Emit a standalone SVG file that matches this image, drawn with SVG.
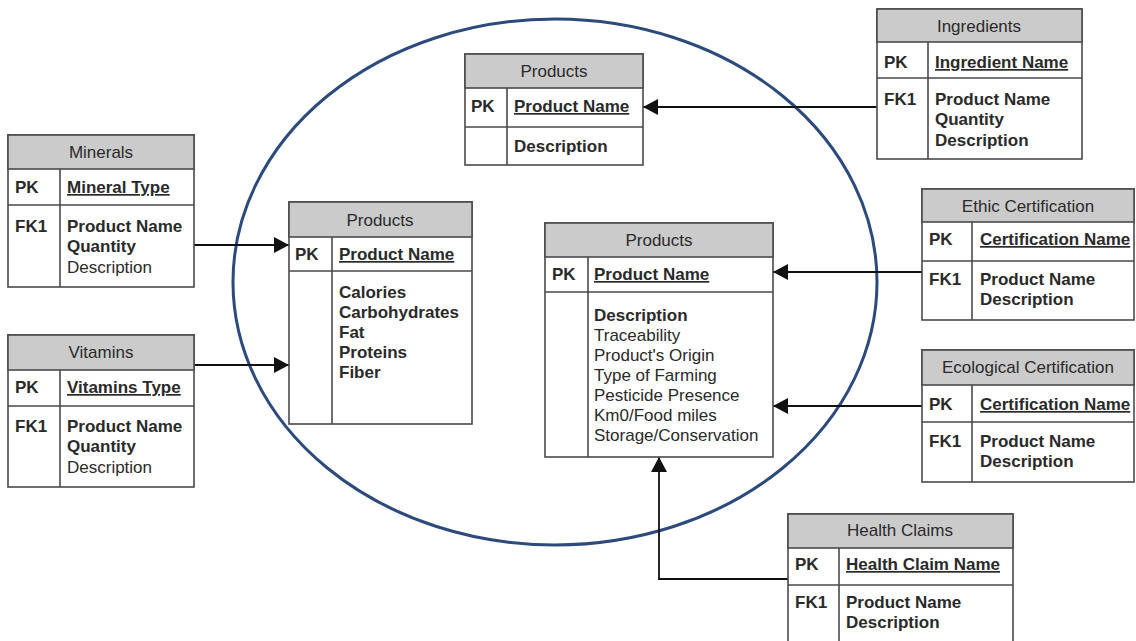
<svg xmlns="http://www.w3.org/2000/svg" width="1136" height="641" viewBox="0 0 1136 641">
<defs>
<style>
text{font-family:"Liberation Sans",Arial,sans-serif;font-size:17px;fill:#2a2a2a}
.b{font-weight:bold}
.u{font-weight:bold;text-decoration:underline}
.t{text-anchor:middle}
.box{fill:#fff;stroke:#4a4a4a;stroke-width:1.6}
.hdr{fill:#cbcbcb;stroke:#4a4a4a;stroke-width:1.6}
.ln{stroke:#4a4a4a;stroke-width:1.6;fill:none}
.con{stroke:#111;stroke-width:1.8;fill:none;marker-end:url(#ah)}
</style>
<marker id="ah" markerUnits="userSpaceOnUse" markerWidth="16" markerHeight="16" refX="15" refY="8" orient="auto">
<path d="M0,0 L15,8 L0,16 Z" fill="#111"/>
</marker>
</defs>
<rect width="1136" height="641" fill="#fff"/>
<ellipse cx="555" cy="282" rx="322" ry="263" fill="none" stroke="#2c4a7c" stroke-width="3"/>
<g id="connectors">
<path class="con" d="M194,245 H289"/>
<path class="con" d="M194,365 H289"/>
<path class="con" d="M877,107 H643"/>
<path class="con" d="M922,272 H773"/>
<path class="con" d="M922,406 H773"/>
<path class="con" d="M788,579 H659 V457"/>
</g>
<g id="minerals">
<rect class="box" x="8" y="135" width="186" height="152"/>
<rect class="hdr" x="8" y="135" width="186" height="34"/>
<path class="ln" d="M8,205 H194 M60,169 V287"/>
<text class="t" x="101" y="158">Minerals</text>
<text class="b" x="15" y="193">PK</text>
<text class="u" x="67" y="193">Mineral Type</text>
<text class="b" x="15" y="232">FK1</text>
<text class="b" x="67" y="232">Product Name</text>
<text class="b" x="67" y="252">Quantity</text>
<text x="67" y="273">Description</text>
</g>
<g id="vitamins">
<rect class="box" x="8" y="335" width="186" height="152"/>
<rect class="hdr" x="8" y="335" width="186" height="35"/>
<path class="ln" d="M8,406 H194 M60,370 V487"/>
<text class="t" x="101" y="358">Vitamins</text>
<text class="b" x="15" y="393">PK</text>
<text class="u" x="67" y="393">Vitamins Type</text>
<text class="b" x="15" y="432">FK1</text>
<text class="b" x="67" y="432">Product Name</text>
<text class="b" x="67" y="452">Quantity</text>
<text x="67" y="473">Description</text>
</g>
<g id="products-nutrition">
<rect class="box" x="289" y="202" width="183" height="222"/>
<rect class="hdr" x="289" y="202" width="183" height="35"/>
<path class="ln" d="M289,271 H472 M332,237 V424"/>
<text class="t" x="380" y="226">Products</text>
<text class="b" x="295" y="260">PK</text>
<text class="u" x="339" y="260">Product Name</text>
<text class="b" x="339" y="298">Calories</text>
<text class="b" x="339" y="318">Carbohydrates</text>
<text class="b" x="339" y="338">Fat</text>
<text class="b" x="339" y="358">Proteins</text>
<text class="b" x="339" y="378">Fiber</text>
</g>
<g id="products-top">
<rect class="box" x="465" y="54" width="178" height="111"/>
<rect class="hdr" x="465" y="54" width="178" height="34"/>
<path class="ln" d="M465,127 H643 M507,88 V165"/>
<text class="t" x="554" y="77">Products</text>
<text class="b" x="471" y="112">PK</text>
<text class="u" x="514" y="112">Product Name</text>
<text class="b" x="514" y="152">Description</text>
</g>
<g id="ingredients">
<rect class="box" x="877" y="9" width="205" height="150"/>
<rect class="hdr" x="877" y="9" width="205" height="33"/>
<path class="ln" d="M877,78 H1082 M928,42 V159"/>
<text class="t" x="979" y="32">Ingredients</text>
<text class="b" x="884" y="68">PK</text>
<text class="u" x="935" y="68">Ingredient Name</text>
<text class="b" x="884" y="105">FK1</text>
<text class="b" x="935" y="105">Product Name</text>
<text class="b" x="935" y="125">Quantity</text>
<text class="b" x="935" y="146">Description</text>
</g>
<g id="products-quality">
<rect class="box" x="545" y="223" width="228" height="234"/>
<rect class="hdr" x="545" y="223" width="228" height="34"/>
<path class="ln" d="M545,292 H773 M588,257 V457"/>
<text class="t" x="659" y="246">Products</text>
<text class="b" x="552" y="280">PK</text>
<text class="u" x="594" y="280">Product Name</text>
<text class="b" x="594" y="321">Description</text>
<text x="594" y="341">Traceability</text>
<text x="594" y="361">Product's Origin</text>
<text x="594" y="381">Type of Farming</text>
<text x="594" y="401">Pesticide Presence</text>
<text x="594" y="421">Km0/Food miles</text>
<text x="594" y="441">Storage/Conservation</text>
</g>
<g id="ethic-certification">
<rect class="box" x="922" y="189" width="212" height="131"/>
<rect class="hdr" x="922" y="189" width="212" height="33"/>
<path class="ln" d="M922,261 H1134 M972,222 V320"/>
<text class="t" x="1028" y="212">Ethic Certification</text>
<text class="b" x="929" y="245">PK</text>
<text class="u" x="980" y="245">Certification Name</text>
<text class="b" x="929" y="285">FK1</text>
<text class="b" x="980" y="285">Product Name</text>
<text class="b" x="980" y="305">Description</text>
</g>
<g id="ecological-certification">
<rect class="box" x="922" y="350" width="212" height="132"/>
<rect class="hdr" x="922" y="350" width="212" height="35"/>
<path class="ln" d="M922,422 H1134 M972,385 V482"/>
<text class="t" x="1028" y="373">Ecological Certification</text>
<text class="b" x="929" y="410">PK</text>
<text class="u" x="980" y="410">Certification Name</text>
<text class="b" x="929" y="447">FK1</text>
<text class="b" x="980" y="447">Product Name</text>
<text class="b" x="980" y="467">Description</text>
</g>
<g id="health-claims">
<rect class="box" x="788" y="514" width="225" height="140"/>
<rect class="hdr" x="788" y="514" width="225" height="34"/>
<path class="ln" d="M788,585 H1013 M839,548 V654"/>
<text class="t" x="900" y="536">Health Claims</text>
<text class="b" x="795" y="570">PK</text>
<text class="u" x="846" y="570">Health Claim Name</text>
<text class="b" x="795" y="608">FK1</text>
<text class="b" x="846" y="608">Product Name</text>
<text class="b" x="846" y="628">Description</text>
</g>
</svg>
